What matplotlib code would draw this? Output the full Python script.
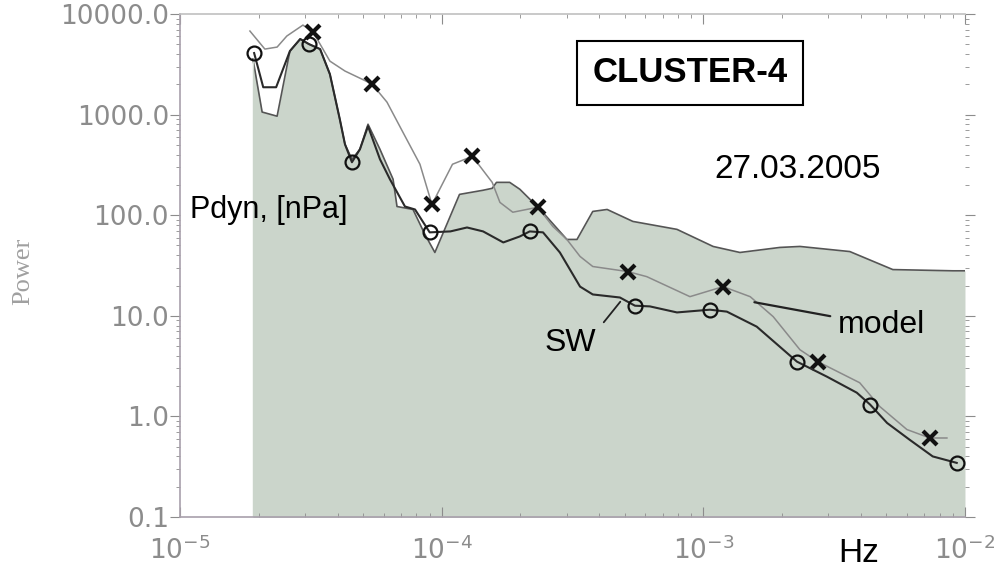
import numpy as np
import matplotlib
matplotlib.use("Agg")
import matplotlib.pyplot as plt
from matplotlib.ticker import LogLocator, FixedLocator, NullFormatter

# power spectra (f in Hz, power)
sw_f = [1.92e-5, 2.08e-5, 2.33e-5, 2.63e-5, 2.88e-5, 3.11e-5, 3.43e-5, 3.74e-5, 4.08e-5,
        4.27e-5, 4.54e-5, 4.87e-5, 5.23e-5, 5.81e-5, 6.34e-5, 7.24e-5, 7.91e-5, 9.0e-5,
        1.08e-4, 1.25e-4, 1.44e-4, 1.72e-4, 1.99e-4, 2.17e-4, 2.44e-4, 2.83e-4, 3.38e-4,
        3.78e-4, 4.80e-4, 5.48e-4, 6.25e-4, 7.93e-4, 1.06e-3, 1.23e-3, 1.60e-3, 2.28e-3,
        2.97e-3, 3.86e-3, 4.34e-3, 5.04e-3, 6.15e-3, 7.53e-3, 9.3e-3]
sw_p = [4090, 1870, 1870, 4280, 5640, 5020, 4480, 2520, 900,
        507, 336, 452, 766, 360, 228, 122, 114, 67.5,
        69, 75.5, 69, 53.6, 61.5, 69, 67.5, 42.6, 19.5,
        16.3, 15.2, 12.6, 12.4, 10.8, 11.5, 11.0, 7.8, 3.5,
        2.48, 1.72, 1.31, 0.86, 0.585, 0.40, 0.345]
sw_mark_f = [1.92e-5, 3.11e-5, 4.54e-5, 9.0e-5, 2.17e-4, 5.48e-4, 1.06e-3, 2.28e-3, 4.34e-3, 9.3e-3]
sw_mark_p = [4090, 5020, 336, 67.5, 69, 12.6, 11.5, 3.5, 1.31, 0.345]

model_f = [1.85e-5, 2.11e-5, 2.35e-5, 2.56e-5, 2.95e-5, 3.22e-5, 3.43e-5, 3.74e-5, 4.27e-5,
           4.96e-5, 5.42e-5, 6.18e-5, 7.11e-5, 8.26e-5, 9.18e-5, 1.10e-4, 1.31e-4, 1.56e-4,
           1.67e-4, 1.87e-4, 2.33e-4, 2.66e-4, 3.01e-4, 3.38e-4, 3.78e-4, 5.15e-4, 6.08e-4,
           8.89e-4, 1.19e-3, 1.51e-3, 1.85e-3, 2.34e-3, 2.74e-3, 3.96e-3, 4.73e-3, 6.0e-3,
           7.34e-3, 8.53e-3]
model_p = [6770, 4480, 4690, 6040, 7760, 6620, 5020, 3400, 2710,
           2250, 2010, 1330, 668, 321, 128, 321, 385, 212,
           134, 107, 120, 77.3, 57.4, 38.9, 30.9, 27.5, 24.5,
           15.5, 19.5, 15.5, 9.8, 4.6, 3.5, 2.16, 1.25, 0.74,
           0.61, 0.61]
model_mark_f = [3.22e-5, 5.42e-5, 9.18e-5, 1.31e-4, 2.33e-4, 5.15e-4, 1.19e-3, 2.74e-3, 7.34e-3]
model_mark_p = [6620, 2010, 128, 385, 120, 27.5, 19.5, 3.5, 0.61]

pdyn_f = [1.90e-5, 2.06e-5, 2.35e-5, 2.63e-5, 2.88e-5, 3.11e-5, 3.43e-5, 3.74e-5, 4.08e-5,
          4.27e-5, 4.54e-5, 4.87e-5, 5.23e-5, 5.81e-5, 6.52e-5, 6.75e-5, 7.77e-5, 8.63e-5,
          9.42e-5, 1.17e-4, 1.44e-4, 1.56e-4, 1.62e-4, 1.82e-4, 1.99e-4, 2.38e-4, 3.01e-4,
          3.29e-4, 3.78e-4, 4.29e-4, 5.38e-4, 7.93e-4, 1.09e-3, 1.38e-3, 1.96e-3, 2.34e-3,
          3.63e-3, 5.30e-3, 9.0e-3, 1.0e-2]
pdyn_p = [3570, 1060, 964, 4280, 5640, 5020, 4480, 2520, 900,
          507, 360, 452, 802, 452, 228, 122, 114, 64.4,
          42.6, 161, 177, 185, 212, 212, 181, 114, 57.4,
          57.4, 109, 114, 86.7, 72.3, 48.9, 42.6, 47.8, 48.9,
          43.5, 28.8, 28, 28]

fig = plt.figure(figsize=(9.94, 5.69), dpi=100)
ax = fig.add_axes([0.1811, 0.0914, 0.7897, 0.884])
ax.set_xscale('log')
ax.set_yscale('log')

ax.fill_between(pdyn_f, pdyn_p, 0.05, color='#cbd5cb', lw=0)
ax.plot(pdyn_f, pdyn_p, color='#555555', lw=1.2)
ax.plot([pdyn_f[0], pdyn_f[0]], [0.1, pdyn_p[0]], color='#cbd5cb', lw=1)

ax.plot(model_f, model_p, color='#8a8a8a', lw=1.1)
ax.plot(model_mark_f, model_mark_p, ls='none', marker='x', ms=10, mew=3, color='#111111')
ax.plot(sw_f, sw_p, color='#2a2a2a', lw=1.5)
ax.plot(sw_mark_f, sw_mark_p, ls='none', marker='o', ms=10, mew=1.6, mfc='none', mec='#111111')

ax.set_xlim(1e-5, 1e-2)
ax.set_ylim(0.1, 10000)

ax.yaxis.set_major_locator(FixedLocator([0.1, 1, 10, 100, 1000, 10000]))
ax.set_yticklabels(['0.1', '1.0', '10.0', '100.0', '1000.0', '10000.0'])
ax.yaxis.set_minor_locator(LogLocator(base=10, subs=np.arange(2, 10)))
ax.yaxis.set_minor_formatter(NullFormatter())
ax.xaxis.set_major_locator(FixedLocator([1e-5, 1e-4, 1e-3, 1e-2]))
ax.set_xticklabels([r'$10^{-5}$', r'$10^{-4}$', r'$10^{-3}$', r'$10^{-2}$'])
ax.xaxis.set_minor_locator(LogLocator(base=10, subs=np.arange(2, 10)))
ax.xaxis.set_minor_formatter(NullFormatter())

ax.tick_params(axis='y', which='both', direction='out', left=True, right=True,
               colors='#8c8c8c', labelsize=19, pad=1)
ax.tick_params(axis='y', which='major', length=7)
ax.tick_params(axis='y', which='minor', length=3)
ax.tick_params(axis='x', which='both', direction='in', top=True, bottom=True,
               colors='#8c8c8c', labelsize=19, pad=14)
ax.tick_params(axis='x', which='major', length=7)
ax.tick_params(axis='x', which='minor', length=3)

for side in ['left', 'bottom', 'top', 'right']:
    ax.spines[side].set_color('#a8a0ab')
    ax.spines[side].set_linewidth(1.2)
ax.spines['top'].set_color('#c0c0c0')
ax.spines['right'].set_visible(False)

ax.text(0.0127, 0.610, 'Pdyn, [nPa]', transform=ax.transAxes, ha='left', va='center',
        fontsize=22, family='Liberation Sans')
ax.text(0.650, 0.883, 'CLUSTER-4', transform=ax.transAxes, ha='center', va='center',
        fontsize=25, fontweight='bold', family='Liberation Sans',
        bbox=dict(boxstyle='square,pad=0.45', fc='white', ec='black', lw=1.5))
ax.text(0.787, 0.690, '27.03.2005', transform=ax.transAxes, ha='center', va='center',
        fontsize=24, family='Liberation Sans')
ax.text(0.838, 0.382, 'model', transform=ax.transAxes, ha='left', va='center',
        fontsize=23, family='Liberation Sans')
ax.text(0.497, 0.346, 'SW', transform=ax.transAxes, ha='center', va='center',
        fontsize=23, family='Liberation Sans')
ax.text(0.864, -0.0716, 'Hz', transform=ax.transAxes, ha='center', va='center',
        fontsize=24, family='Liberation Sans')
fig.text(0.023, 0.524, 'Power', rotation=90, ha='center', va='center',
         fontsize=19, family='Liberation Serif', color='#a0a0a0')

ax.annotate('', xy=(1.53e-3, 13.8), xytext=(3.13e-3, 9.8),
            arrowprops=dict(arrowstyle='-', color='#222222', lw=1.6))
ax.annotate('', xy=(4.89e-4, 14.5), xytext=(4.10e-4, 8.2),
            arrowprops=dict(arrowstyle='-', color='#222222', lw=1.3))

fig.savefig('out.png', dpi=100)
